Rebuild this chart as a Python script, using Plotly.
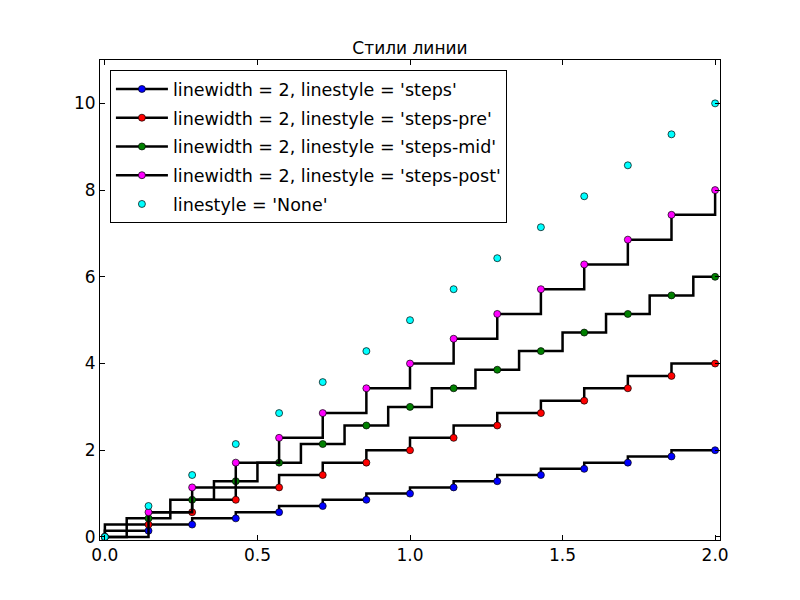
import plotly.graph_objects as go

# values
x_vals = [0.0, 0.143, 0.286, 0.429, 0.571, 0.714, 0.857, 1.0,
          1.143, 1.286, 1.429, 1.571, 1.714, 1.857, 2.0]
y_steps = [0.0, 0.143, 0.286, 0.429, 0.571, 0.714, 0.857, 1.0,
           1.143, 1.286, 1.429, 1.571, 1.714, 1.857, 2.0]
y_pre = [0.0, 0.286, 0.571, 0.857, 1.143, 1.429, 1.714, 2.0,
         2.286, 2.571, 2.857, 3.143, 3.429, 3.714, 4.0]
y_mid = [0.0, 0.429, 0.857, 1.286, 1.714, 2.143, 2.571, 3.0,
         3.429, 3.857, 4.286, 4.714, 5.143, 5.571, 6.0]
y_post = [0.0, 0.571, 1.143, 1.714, 2.286, 2.857, 3.429, 4.0,
          4.571, 5.143, 5.714, 6.286, 6.857, 7.429, 8.0]
y_none = [0.0, 0.714, 1.429, 2.143, 2.857, 3.571, 4.286, 5.0,
          5.714, 6.429, 7.143, 7.857, 8.571, 9.286, 10.0]

x_ticks = [0.0, 0.5, 1.0, 1.5, 2.0]
y_ticks = [0, 2, 4, 6, 8, 10]

series = [
    ("linewidth = 2, linestyle = 'steps'", y_steps, '#0000ff', 'vh'),
    ("linewidth = 2, linestyle = 'steps-pre'", y_pre, '#ff0000', 'vh'),
    ("linewidth = 2, linestyle = 'steps-mid'", y_mid, '#008000', 'hvh'),
    ("linewidth = 2, linestyle = 'steps-post'", y_post, '#ff00ff', 'hv'),
]

fig = go.Figure()
for n, (name, ys, color, shape) in enumerate(series):
    fig.add_trace(go.Scatter(
        x=x_vals, y=ys, name=name, mode='lines+markers', legendgroup=str(n),
        line=dict(color='black', width=2.5, shape=shape),
        marker=dict(color=color, size=7, line=dict(color='black', width=0.7)),
    ))

fig.add_trace(go.Scatter(
    x=x_vals, y=y_none, name="linestyle = 'None'", mode='markers', legendgroup='none',
    marker=dict(color='#00ffff', size=7, line=dict(color='black', width=0.7)),
))

axis_style = dict(
    showline=True, linecolor='black', linewidth=1, mirror='allticks',
    ticks='inside', ticklen=5, tickcolor='black', showgrid=False,
    zeroline=False, tickfont=dict(size=17, color='black'),
)

fig.update_xaxes(range=[-0.016, 2.016], tickvals=x_ticks, tickformat='.1f', **axis_style)
fig.update_yaxes(range=[-0.07, 11], tickvals=y_ticks, **axis_style)

# the page puts the plot 8px right and down, margins make up for it
fig.update_layout(
    width=800, height=600,
    margin=dict(l=92, r=88, t=52, b=68),
    paper_bgcolor='white', plot_bgcolor='white',
    font=dict(family='DejaVu Sans', size=17, color='black'),
    title=dict(text='Стили линии', x=0.5, xref='paper', xanchor='center',
               y=1, yref='paper', yanchor='bottom', pad=dict(b=6),
               font=dict(size=17)),
    legend=dict(x=0.016, y=0.979, xanchor='left', yanchor='top',
                bgcolor='white', bordercolor='black', borderwidth=1,
                tracegroupgap=3, itemwidth=52, font=dict(size=17.5)),
)

fig.write_html("out.html")
